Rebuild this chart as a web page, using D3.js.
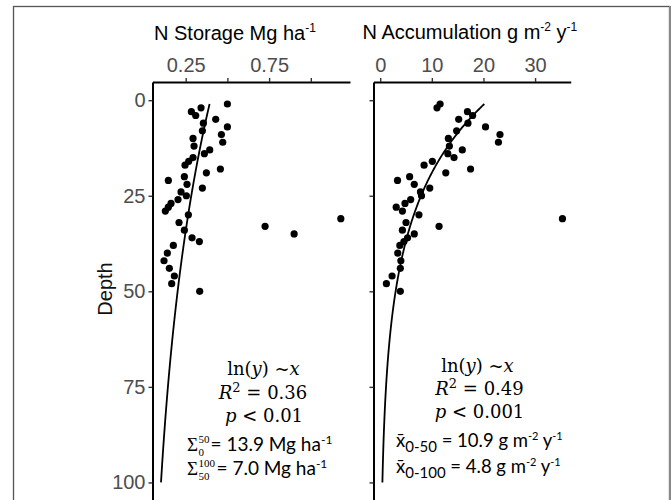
<!DOCTYPE html>
<html>
<head>
<meta charset="utf-8">
<script src="https://cdn.jsdelivr.net/npm/d3@7/dist/d3.min.js"></script>
<style>
  body { margin: 0; background: #fff; }
  text { font-family: "Liberation Sans", Arial, sans-serif; }
</style>
</head>
<body>
<script>
// sampled depths (cm)
var depth = [1, 2, 3, 4, 5, 6, 7, 8, 9, 10, 11, 12, 13, 14, 15, 16, 17, 18, 19, 20,
             21, 22, 23, 24, 25, 26, 27, 28, 29, 30, 31, 32, 33, 34, 35, 36, 37, 38,
             40, 42, 44, 46, 48, 50];

// N storage, Mg ha-1
var storage = [0.500, 0.342, 0.284, 0.310, 0.430, 0.356, 0.500, 0.350, 0.464, 0.294,
               0.472, 0.300, 0.394, 0.362, 0.294, 0.268, 0.246, 0.458, 0.374, 0.242,
               0.146, 0.258, 0.350, 0.222, 0.254, 0.204, 0.162, 0.146, 0.128, 0.266,
               1.180, 0.210, 0.726, 0.242, 0.900, 0.288, 0.332, 0.176,
               0.140, 0.120, 0.152, 0.182, 0.166, 0.334];

// N accumulation, g m-2 y-1
var accumulation = [11.6, 11.0, 16.9, 17.9, 15.2, 17.0, 20.4, 14.8, 23.2, 13.2,
                    22.9, 13.4, 15.9, 13.1, 14.3, 10.1, 8.5, 17.5, 12.7, 5.7,
                    3.35, 6.6, 9.6, 7.8, 8.0, 5.9, 4.8, 3.1, 4.3, 7.5,
                    35.3, 5.0, 11.4, 4.3, 6.6, 5.3, 4.6, 3.8,
                    3.4, 4.0, 3.9, 2.3, 1.2, 3.9];

// ln(y) ~ x fits: value = exp(a + b * depth)
var storageFit = { a: -0.920, b: -0.01363 };
var accumFit = { a: 3.043, b: -0.0390 };
var fitDepthRange = [1, 100];

var storageTicks = [0.25, 0.5, 0.75, 1.0];
var storageTickLabels = ["0.25", "", "0.75", ""];
var accumTicks = [0, 10, 20, 30];
var depthTicks = [0, 25, 50, 75, 100];

var svg = d3.select("body").append("svg")
    .attr("width", 672)
    .attr("height", 500);

// outer frame
svg.append("rect")
    .attr("x", 13.5).attr("y", 6.5)
    .attr("width", 656).attr("height", 500)
    .attr("fill", "none")
    .attr("stroke", "#555")
    .attr("stroke-width", 1.3);
svg.append("line")
    .attr("x1", 670).attr("x2", 670).attr("y1", 6).attr("y2", 500)
    .attr("stroke", "#888").attr("stroke-width", 2);

var y = d3.scaleLinear().domain([-4.76, 104.6]).range([82, 500]);

var fitDepths = d3.range(fitDepthRange[0], fitDepthRange[1] + 0.5, 0.5);

var drawPanel = function (opt) {
    var x = opt.x;
    var g = svg.append("g");

    var xAxis = d3.axisTop(x)
        .tickValues(opt.ticks)
        .tickFormat(function (d, i) { return opt.labels[i]; })
        .tickSize(4).tickSizeOuter(0).tickPadding(6.5);
    var gx = g.append("g").attr("transform", "translate(0," + y.range()[0] + ")").call(xAxis);

    var yAxis = d3.axisLeft(y)
        .tickValues(depthTicks)
        .tickFormat(opt.depthLabels ? d3.format("d") : "")
        .tickSize(4).tickSizeOuter(0).tickPadding(3);
    var gy = g.append("g").attr("transform", "translate(" + x.range()[0] + ",0)").call(yAxis);

    [gx, gy].forEach(function (a) {
        a.select(".domain").attr("stroke", "#000").attr("stroke-width", 2);
        a.selectAll(".tick line").attr("stroke", "#333").attr("stroke-width", 1.4);
        a.selectAll(".tick text")
            .attr("fill", "#4d4d4d")
            .style("font-size", "20px")
            .style("font-family", "'Liberation Sans', Arial, sans-serif");
    });

    var line = d3.line()
        .x(function (d) { return x(Math.exp(opt.fit.a + opt.fit.b * d)); })
        .y(function (d) { return y(d); });
    g.append("path")
        .datum(fitDepths)
        .attr("d", line)
        .attr("fill", "none")
        .attr("stroke", "#000")
        .attr("stroke-width", 1.8);

    g.selectAll("circle.pt")
        .data(opt.values)
        .enter().append("circle")
        .attr("class", "pt")
        .attr("cx", function (d) { return x(d); })
        .attr("cy", function (d, i) { return y(depth[i]); })
        .attr("r", 3.6)
        .attr("fill", "#000");
    return g;
};

var xStorage = d3.scaleLinear().domain([0.051, 1.235]).range([152.5, 350]);
var xAccum = d3.scaleLinear().domain([-1.3, 36.9]).range([373.5, 570.7]);

drawPanel({ x: xStorage, ticks: storageTicks, labels: storageTickLabels,
            values: storage, fit: storageFit, depthLabels: true });
drawPanel({ x: xAccum, ticks: accumTicks, labels: accumTicks.map(String),
            values: accumulation, fit: accumFit, depthLabels: false });

// rich text helper: segments of [text, style]
var rich = function (x, yy, anchor, segs, family, size, supRatio, supRise) {
    supRatio = supRatio || 0.62;
    supRise = supRise || 7;
    var t = svg.append("text")
        .attr("x", x).attr("y", yy)
        .attr("text-anchor", anchor)
        .style("font-family", family)
        .style("font-size", size + "px")
        .attr("fill", "#000");
    var shift = 0;
    segs.forEach(function (s) {
        var st = s[1] || "";
        var ts = t.append("tspan").text(s[0]);
        var dy = 0;
        if (st.indexOf("sup") >= 0) { dy = -supRise - shift; shift = -supRise; ts.style("font-size", Math.round(size * supRatio) + "px"); }
        else if (st.indexOf("sub") >= 0) { dy = 5 - shift; shift = 5; ts.style("font-size", Math.round(size * 0.8) + "px"); }
        else { dy = -shift; shift = 0; }
        if (dy) ts.attr("dy", dy);
        if (st.indexOf("it") >= 0) ts.style("font-style", "italic");
    });
    return t;
};

var sans = "'Liberation Sans', Arial, sans-serif";
var serif = "'DejaVu Serif', serif";
var tserif = "'Liberation Serif', serif";
var cal = "Lato, 'Open Sans', sans-serif";

// titles
rich(154, 40, "start", [["N Storage Mg ha"], ["-1", "sup"]], sans, 20, 0.6, 8);
rich(362.5, 38.5, "start", [["N Accumulation g m"], ["-2", "sup"], [" y"], ["-1", "sup"]], sans, 20, 0.6, 8);

svg.append("text")
    .attr("transform", "translate(112,289) rotate(-90)")
    .attr("text-anchor", "middle")
    .style("font-size", "20px")
    .attr("fill", "#111")
    .text("Depth");

// left panel statistics
rich(263.5, 375, "middle", [["ln("], ["y", "it"], [") ~"], ["x", "it"]], serif, 18);
rich(263, 399, "middle", [["R", "it"], ["2", "sup"], [" = 0.36"]], serif, 18, 0.72, 7);
rich(264, 421.7, "middle", [["p", "it"], [" < 0.01"]], serif, 18);

var sigma = function (x, yy, hi, lo, rest, restX) {
    svg.append("text").attr("x", x).attr("y", yy)
        .style("font-family", tserif).style("font-size", "19px").text("\u03A3");
    svg.append("text").attr("x", x + 11.5).attr("y", yy - 8)
        .style("font-family", tserif).style("font-size", "11px").text(hi);
    svg.append("text").attr("x", x + 11.5).attr("y", yy + 5)
        .style("font-family", tserif).style("font-size", "11px").text(lo);
    rich(restX, yy, "start", rest, cal, 19, 0.62, 7);
};
sigma(187, 451, "50", "0", [["= 13.9 Mg ha"], ["-1", "sup"]], 210.5);
sigma(187, 475, "100", "50", [["= 7.0 Mg ha"], ["-1", "sup"]], 216.5);

// right panel statistics
rich(477.5, 371.7, "middle", [["ln("], ["y", "it"], [") ~"], ["x", "it"]], serif, 18);
rich(479.5, 395, "middle", [["R", "it"], ["2", "sup"], [" = 0.49"]], serif, 18, 0.72, 7);
rich(479.5, 418.3, "middle", [["p", "it"], [" < 0.001"]], serif, 18);

rich(396, 446.7, "start", [["x\u0304"], ["0-50", "sub"], [" = 10.9 g m"], ["-2", "sup"], [" y"], ["-1", "sup"]], cal, 18.5);
rich(396, 473.3, "start", [["x\u0304"], ["0-100", "sub"], [" = 4.8 g m"], ["-2", "sup"], [" y"], ["-1", "sup"]], cal, 18.5);
</script>
</body>
</html>
